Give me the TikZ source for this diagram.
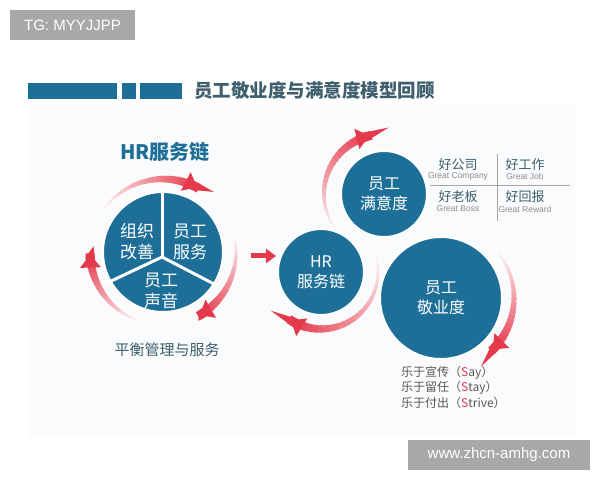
\documentclass[tikz,border=0pt]{standalone}
\usepackage{fontspec}
\setmainfont{Noto Sans CJK SC}
\newfontfamily\latin{Liberation Sans}
\usetikzlibrary{arrows.meta}
\definecolor{cblue}{HTML}{1E6F98}
\definecolor{cred}{HTML}{E53A4B}
\definecolor{ctext}{HTML}{3E5F6E}
\definecolor{cgray}{HTML}{A8A8A8}
\definecolor{cpanel}{HTML}{F9FBFC}
\newcommand\fadearc[5]{%
  \foreach \i in {0,...,23}{%
    \pgfmathsetmacro\aa{#4+(#5-#4)*\i/24}%
    \pgfmathsetmacro\ab{#4+(#5-#4)*(\i+1.4)/24}%
    \pgfmathsetmacro\w{1.5+7.5*\i/23}%
    \pgfmathsetmacro\c{8+92*\i/23}%
    \draw[line width=\w pt, color=cred!\c!white] ([shift={(\aa:#3)}]#1,#2) arc[start angle=\aa, end angle=\ab, radius=#3];
  }%
  \pgfmathsetmacro\ac{#5-(#5-#4)*0.06}%
  \draw[line width=9pt, cred, -{Triangle[width=20pt,length=13pt]}] ([shift={(\ac:#3)}]#1,#2) arc[start angle=\ac, end angle=#5, radius=#3];
}
\tikzset{
  bigcirc/.style={circle, fill=cblue, draw=white, line width=2pt, inner sep=0pt},
  ctxt/.style={text=white, align=center, font=\fontsize{16}{20}\selectfont},
  sectxt/.style={text=white, align=center, font=\fontsize{17}{21}\selectfont},
  grid/.style={draw=black!35, line width=0.6pt},
  gcn/.style={text=ctext, font=\fontsize{13}{15}\selectfont, inner sep=0pt},
  gen/.style={text=black!45, font=\latin\fontsize{8.5}{10}\selectfont, inner sep=0pt},
  lst/.style={text=black!65, anchor=west, font=\fontsize{12}{14}\selectfont, inner sep=0pt},
  wm/.style={fill=cgray, text=white, font=\latin\fontsize{15}{18}\selectfont, inner sep=0pt},
}
\newcommand\rs[1]{\textcolor{cred}{#1}}
\begin{document}
\begin{tikzpicture}[x=1pt,y=1pt]
\useasboundingbox (0,0) rectangle (600,480);
\fill[white] (0,0) rectangle (600,480);
\fill[cpanel] (28,43) rectangle (575,375);
% watermark top
\node[wm, minimum width=125pt, minimum height=30pt] (tg) at (72.5,455) {TG: MYYJJPP};
% title bar
\fill[cblue] (28,381) rectangle (117,397);
\fill[cblue] (122,381) rectangle (136,397);
\fill[cblue] (140,381) rectangle (182,397);
\node[anchor=west, text=ctext, font=\bfseries\fontsize{18.5}{22}\selectfont, inner sep=0pt] (title) at (194,390) {员工敬业度与满意度模型回顾};
% left part
\node[text=cblue, font=\bfseries\fontsize{20}{24}\selectfont] (hrtitle) at (165,328) {HR服务链};
\fadearc{163}{228}{73}{142}{62}
\fadearc{163}{228}{73}{12}{-60}
\fadearc{163}{228}{73}{-112}{-178}
\node[bigcirc, minimum size=120pt] (lc) at (163,228) {};
\coordinate (yc) at (162,223);
\draw[white, line width=3pt] (yc) -- (162,288);
\draw[white, line width=3pt] (yc) -- (107,197);
\draw[white, line width=3pt] (yc) -- (214,196);
\node[sectxt] (s1) at (137,238) {组织\\改善};
\node[sectxt] (s2) at (190,238) {员工\\服务};
\node[sectxt] (s3) at (161,189) {员工\\声音};
\node[text=ctext, font=\fontsize{15}{18}\selectfont] (bal) at (167,130) {平衡管理与服务};
% middle arrow
\coordinate (ma) at (251,224);
\coordinate (mb) at (276,224);
\draw[cred, line width=5pt, -{Triangle[width=14pt,length=10pt]}] (ma) -- (mb);
% right part arcs
\fadearc{384}{286}{60}{214}{104}
\fadearc{321}{208}{57}{14}{-122}
\fadearc{441}{182}{73}{38}{-45}
\node[bigcirc, minimum size=86pt] (hr) at (321,208) {};
\node[ctxt] at (hr) {HR\\服务链};
\node[bigcirc, minimum size=86pt] (sat) at (384,286) {};
\node[ctxt] at (sat) {员工\\满意度};
\node[bigcirc, minimum size=122pt] (eng) at (441,182) {};
\node[ctxt] at (eng) {员工\\敬业度};
% grid
\coordinate (h1) at (430,295);
\coordinate (h2) at (570,295);
\coordinate (v1) at (497,326);
\coordinate (v2) at (497,259);
\draw[grid] (h1) -- (h2);
\draw[grid] (v1) -- (v2);
\node[gcn] (g1) at (458,315) {好公司};
\node[gen] (e1) at (458,304) {Great Company};
\node[gcn] (g2) at (525,315) {好工作};
\node[gen] (e2) at (525,304) {Great Job};
\node[gcn] (g3) at (458,283) {好老板};
\node[gen] (e3) at (458,271) {Great Boss};
\node[gcn] (g4) at (525,283) {好回报};
\node[gen] (e4) at (525,271) {Great Reward};
% list
\node[lst] (l1) at (401,107) {乐于宣传（\rs{S}ay）};
\node[lst] (l2) at (401,92) {乐于留任（\rs{S}tay）};
\node[lst] (l3) at (401,77) {乐于付出（\rs{S}trive）};
% watermark bottom
\node[wm, minimum width=182pt, minimum height=30pt] (url) at (499,25) {www.zhcn-amhg.com};
\end{tikzpicture}
\end{document}
